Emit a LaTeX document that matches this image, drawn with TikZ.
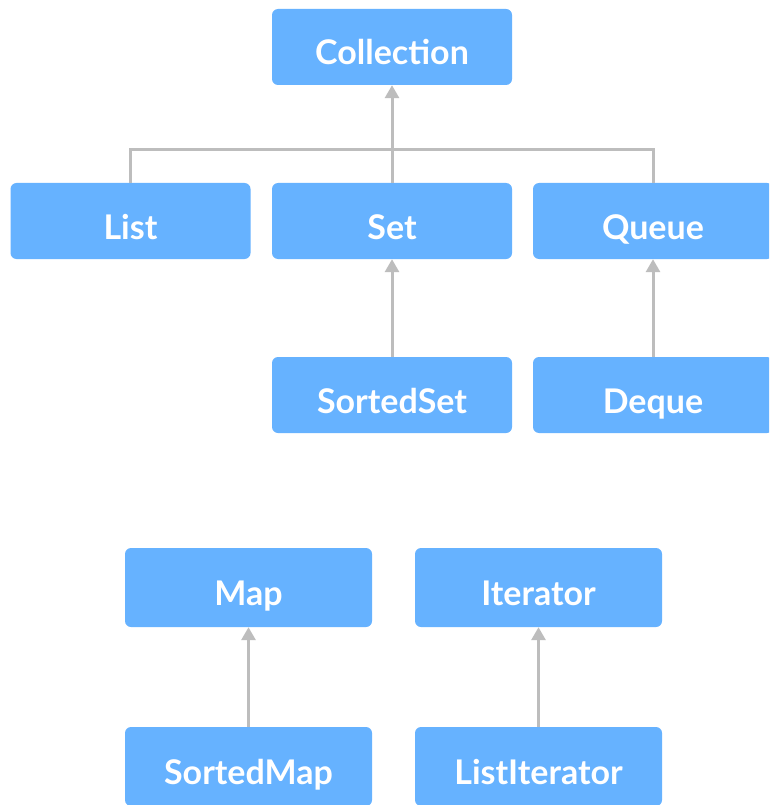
\documentclass[tikz,border=0pt]{standalone}
\usepackage{fontspec}
\setmainfont{Lato}
\usetikzlibrary{arrows.meta}
\definecolor{boxblue}{HTML}{66B2FF}
\definecolor{linkgray}{HTML}{BDBDBD}
\begin{document}
\begin{tikzpicture}[x=1pt,y=1pt,
  typebox/.style={rectangle, rounded corners=6pt, fill=boxblue, draw=none,
    minimum width=240pt, minimum height=76pt, inner sep=0pt,
    text height=38pt, text depth=2pt,
    text=white, font=\fontsize{34}{40}\selectfont\bfseries},
  widebox/.style={typebox, minimum width=247pt, minimum height=79pt},
  link/.style={draw=linkgray, line width=3pt},
  inherit/.style={link, -{Triangle[width=14pt,length=13pt]}}]
\useasboundingbox (0,0) rectangle (769,-805);
\fill[white] (0,0) rectangle (769,-805);
\clip (0,0) rectangle (769,-805);

% collection hierarchy
\node[typebox] (collection) at (392,-47)    {Collection};
\node[typebox] (list)       at (130.5,-221) {List};
\node[typebox] (set)        at (392,-221)   {Set};
\node[typebox] (queue)      at (653,-221)   {Queue};
\node[typebox] (sortedset)  at (392,-395)   {SortedSet};
\node[typebox] (deque)      at (653,-395)   {Deque};

% map and iterator hierarchies
\node[widebox] (map)          at (248.5,-587.5) {Map};
\node[widebox] (iterator)     at (538.5,-587.5) {Iterator};
\node[widebox] (sortedmap)    at (248.5,-766.5) {SortedMap};
\node[widebox] (listiterator) at (538.5,-766.5) {ListIterator};

% shared bus joining List, Set and Queue to Collection
\coordinate (bus) at (392,-150);
\draw[link] (list.north) |- (bus) -| (queue.north);
\draw[inherit] (set.north) -- (collection.south);

\draw[inherit] (sortedset.north) -- (set.south);
\draw[inherit] (deque.north) -- (queue.south);
\draw[inherit] (sortedmap.north) -- (map.south);
\draw[inherit] (listiterator.north) -- (iterator.south);
\end{tikzpicture}
\end{document}
